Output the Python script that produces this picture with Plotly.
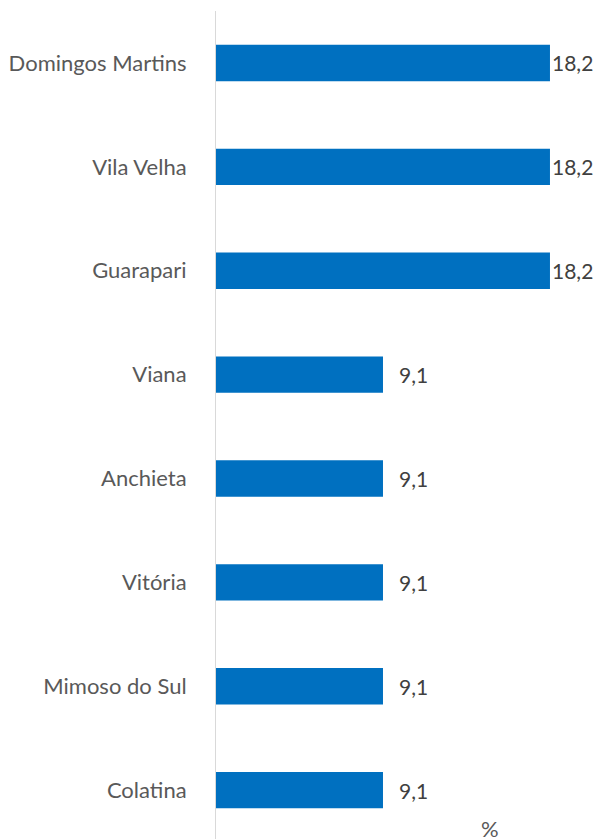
import plotly.graph_objects as go

municipios = ["Domingos Martins", "Vila Velha", "Guarapari", "Viana",
              "Anchieta", "Vitória", "Mimoso do Sul", "Colatina"]
percentuais = [18.2, 18.2, 18.2, 9.1, 9.1, 9.1, 9.1, 9.1]

azul = "#0070C0"
cinza_texto = "#595959"
fonte = "Lato"

W, H = 599, 839
L, R, T = 216, 16, 11

fig = go.Figure(go.Bar(
    x=percentuais,
    y=municipios,
    orientation="h",
    marker=dict(color=azul, line=dict(width=0)),
    hoverinfo="skip",
))

# rótulos de dados (vírgula decimal), como no Excel
for m, v in zip(municipios, percentuais):
    fig.add_annotation(
        x=v, y=m, xref="x", yref="y",
        text=f"{v:.1f}".replace(".", ","),
        showarrow=False, xanchor="left",
        xshift=0 if v > 15 else 14,
        font=dict(family=fonte, size=21, color="#404040"),
    )

fig.add_annotation(
    x=(501 - L) / (W - L - R), y=0, xref="paper", yref="paper",
    text="%", showarrow=False, yanchor="bottom", yshift=-5,
    font=dict(family=fonte, size=22, color=cinza_texto),
)

fig.update_layout(
    width=W, height=H,
    margin=dict(l=L, r=R, t=T, b=0),
    plot_bgcolor="white", paper_bgcolor="white",
    bargap=0.65,
    showlegend=False,
    font=dict(family=fonte, size=22, color=cinza_texto),
)
fig.update_xaxes(range=[0, 20], visible=False, automargin=False)
fig.update_yaxes(
    range=[7.47, -0.5], automargin=False,
    showline=True, linecolor="#d9d9d9", linewidth=1,
    showgrid=False, ticks="", ticklabelstandoff=24,
    tickfont=dict(family=fonte, size=22, color=cinza_texto),
)

# tira a margem padrão do body para a figura ocupar a janela inteira
fig.write_html("out.html",
               config={"displayModeBar": False},
               post_script="document.body.style.margin='0';"
                           "document.body.style.overflow='hidden';")
